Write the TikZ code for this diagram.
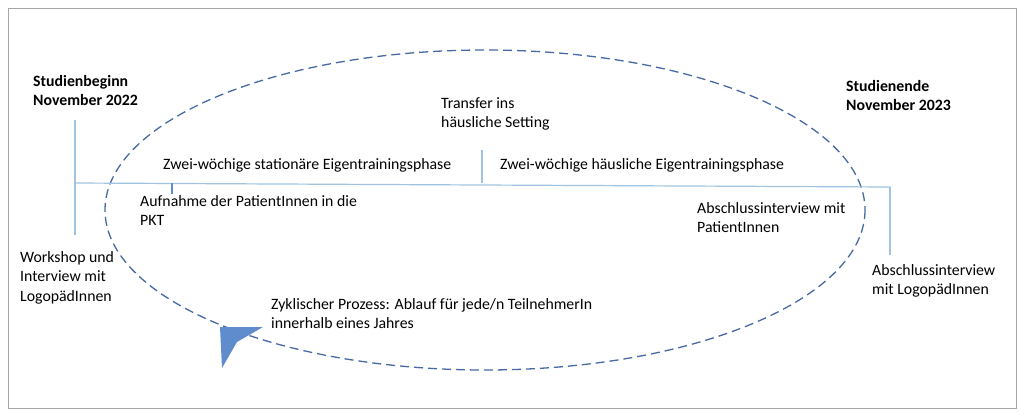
\documentclass[tikz,border=0pt]{standalone}
\usepackage{fontspec}
\setmainfont{Carlito}
\definecolor{ell}{RGB}{70,105,165}
\definecolor{arr}{RGB}{95,140,205}
\definecolor{tlc}{RGB}{160,195,225}
\begin{document}
\begin{tikzpicture}[x=1pt,y=-1pt,
 lbl/.style={anchor=north west,inner sep=0pt,font=\fontsize{15.8}{19.5}\selectfont,align=left},
 blbl/.style={lbl,font=\fontsize{15.8}{19.5}\selectfont\bfseries},
 tl/.style={draw=tlc,line width=1.2pt}]
\useasboundingbox (0,0) rectangle (1024,416);
\node[draw=gray!70,line width=1pt,minimum width=1008pt,minimum height=400pt,inner sep=0pt,anchor=north west] (frame) at (8,8) {};
\draw[dash pattern=on 9pt off 5pt,line width=1.3pt,draw=ell] (485,210) ellipse [x radius=380, y radius=160];
\coordinate (L0) at (75,120); \coordinate (L1) at (75,235);
\coordinate (T0) at (75,183); \coordinate (T1) at (890,187);
\coordinate (R0) at (890,187); \coordinate (R1) at (890,255);
\coordinate (M0) at (482,150); \coordinate (M1) at (482,183);
\coordinate (K0) at (172,183); \coordinate (K1) at (172,194);
\draw[tl] (L0)--(L1); \draw[tl] (T0)--(T1); \draw[tl] (R0)--(R1); \draw[tl] (M0)--(M1);
\draw[draw=arr,line width=2pt] (K0)--(K1);
\fill[fill=arr] (220,327)--(263,327)--(237,342)--(222,368)--cycle;
\node[blbl] (sb) at (33,75) {Studienbeginn\\November 2022};
\node[blbl] (se) at (846,80) {Studienende\\November 2023};
\node[lbl] (tr) at (441,97) {Transfer ins\\häusliche Setting};
\node[lbl] (p1) at (163,158) {Zwei-wöchige stationäre Eigentrainingsphase};
\node[lbl] (p2) at (500,158) {Zwei-wöchige häusliche Eigentrainingsphase};
\node[lbl] (auf) at (140,195) {Aufnahme der PatientInnen in die\\PKT};
\node[lbl] (abp) at (697,202) {Abschlussinterview mit\\PatientInnen};
\node[lbl] (ws) at (20,251) {Workshop und\\Interview mit\\LogopädInnen};
\node[lbl] (abl) at (872,264) {Abschlussinterview\\mit LogopädInnen};
\node[lbl] (zy) at (271,298) {Zyklischer Prozess: Ablauf für jede/n TeilnehmerIn\\innerhalb eines Jahres};
\end{tikzpicture}
\end{document}
